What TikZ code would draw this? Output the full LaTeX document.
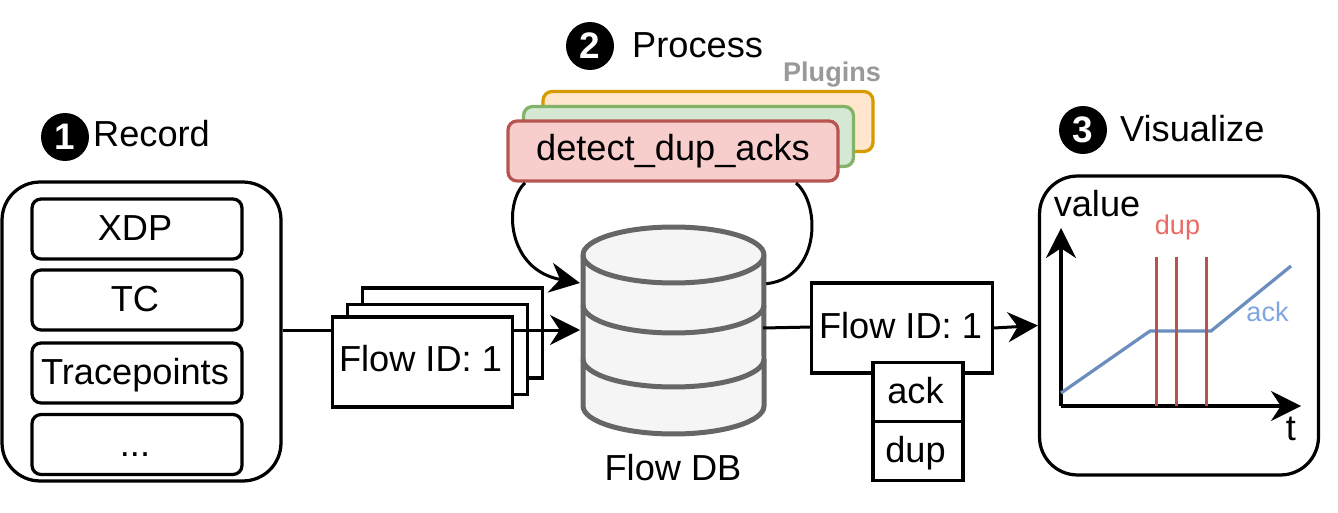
\documentclass[tikz,border=0pt]{standalone}
\usepackage{fontspec}
\setmainfont{Liberation Sans}
\usetikzlibrary{arrows.meta}
\definecolor{dbline}{HTML}{666666}
\definecolor{dbfill}{HTML}{F5F5F5}
\definecolor{ackline}{HTML}{6C8EBF}
\definecolor{dupline}{HTML}{B85450}
\definecolor{dupfill}{HTML}{F8CECC}
\definecolor{acktext}{HTML}{7EA6E0}
\definecolor{duptext}{HTML}{EA6B66}
\definecolor{orangeline}{HTML}{D79B00}
\definecolor{orangefill}{HTML}{FFE6CC}
\definecolor{greenline}{HTML}{82B366}
\definecolor{greenfill}{HTML}{D5E8D4}
\definecolor{pluginstext}{HTML}{999999}
\tikzset{
	bigtext/.style={font=\fontsize{20.6}{24}\selectfont},
	smalltext/.style={font=\fontsize{15.4}{18}\selectfont},
	panel/.style={draw,line width=.065cm,rounded corners=.76cm,inner sep=0pt,minimum width=5.58cm,minimum height=5.98cm},
	probe/.style={draw,bigtext,line width=.065cm,rounded corners=.18cm,fill=white,minimum width=4.2cm,minimum height=1.2cm,inner sep=0pt,text height=.56cm,text depth=.08cm},
	flowbox/.style={draw,bigtext,line width=.065cm,fill=white,minimum width=3.61cm,minimum height=1.8cm,inner sep=0pt,text height=.5cm,text depth=.1cm},
	fieldbox/.style={draw,bigtext,line width=.065cm,fill=white,minimum width=1.8cm,minimum height=1.18cm,inner sep=0pt,text height=.52cm,text depth=.07cm},
	plugin/.style={draw,line width=.065cm,rounded corners=.18cm,minimum width=6.6cm,minimum height=1.2cm,inner sep=0pt},
	badge/.style={circle,fill=black,text=white,minimum size=.96cm,inner sep=0pt,font=\fontsize{21}{24}\selectfont\bfseries},
	link/.style={line width=.06cm,-{Stealth[length=.6cm,width=.6cm]}},
	axis/.style={line width=.065cm,-{Stealth[length=.6cm,width=.6cm]}},
}
\begin{document}
\begin{tikzpicture}[x=.02cm,y=-.02cm]
	\useasboundingbox (0,0) rectangle (1338,513);
	% record
	\node[panel] (record) at (141.5,331.5) {};
	\node[probe] (xdp) at (137,229) {XDP\kern.08cm};
	\node[probe] (tc) at (137,300) {TC\kern.08cm};
	\node[probe] (tracepoints) at (137,373) {Tracepoints\kern.08cm};
	\node[probe] (more) at (137,444.5) {...\kern.08cm};
	\node[badge] (one) at (65,137) {1};
	\node[bigtext,anchor=west] (recordtitle) at (87,134) {Record};
	% flows
	\path
	(580,330) coordinate (dbin)
	(580,283) coordinate (dbloop)
	(762,284) coordinate (dbout)
	(763,328) coordinate (dbright)
	;
	\node[flowbox] (flowc) at (452.5,333) {};
	\node[flowbox] (flowb) at (437.5,349.5) {};
	\draw[link] (record.east|-dbin) -- (dbin);
	\node[flowbox] (flowa) at (422.5,362) {Flow ID: 1\kern.08cm};
	% process
	\node[badge] (two) at (590,46) {2};
	\node[bigtext,anchor=west] (processtitle) at (626,45) {Process};
	\node[smalltext,text=pluginstext,font=\fontsize{15.4}{18}\selectfont\bfseries] (plugins) at (832,75) {Plugins};
	\node[plugin,draw=orangeline,fill=orangefill] (plugina) at (708,121.5) {};
	\node[plugin,draw=greenline,fill=greenfill] (pluginb) at (688.5,136.5) {};
	\node[plugin,draw=dupline,fill=dupfill,bigtext] (pluginc) at (673,151) {detect\_dup\_acks};
	\draw[link] (525,183) .. controls (503,203) and (507,270) .. (dbloop);
	\draw[line width=.06cm] (796,183) .. controls (822,205) and (820,282) .. (dbout);
	% database
	\path[draw=dbline,fill=dbfill,line width=.1cm]
	(583,255) arc[x radius=1.81cm,y radius=.56cm,start angle=180,end angle=0]
	-- (764,406) arc[x radius=1.81cm,y radius=.56cm,start angle=0,end angle=-180] -- cycle;
	\foreach \t in {255,305,359}{
		\draw[draw=dbline,line width=.1cm] (583,\t) arc[x radius=1.81cm,y radius=.56cm,start angle=180,end angle=360];
	}
	\node[bigtext] (dbname) at (673,468) {Flow DB};
	% output
	\draw[line width=.06cm] (dbright) -- (812,327);
	\node[flowbox,text depth=.06cm] (flowout) at (902,328) {Flow ID: 1\kern.06cm};
	\node[fieldbox] (ack) at (918,392) {ack\kern.1cm};
	\node[fieldbox] (dup) at (918,451) {dup\kern.1cm};
	% visualize
	\node[panel] (plot) at (1179,325.5) {};
	\draw[link] (flowout.east) -- (plot.west);
	\node[badge] (three) at (1083,130) {3};
	\node[bigtext,anchor=west] (vistitle) at (1114,129) {Visualize};
	\node[bigtext] (yname) at (1097,204) {value};
	\node[bigtext] (xname) at (1291,429) {t};
	\coordinate (origin) at (1061,406);
	\draw[axis] (origin) -- (1061,228);
	\draw[axis] (origin) -- (1301,406);
	\draw[line width=.065cm,ackline] (1061,393) -- (1150,331) -- (1211,331) -- (1291,266);
	\foreach \t in {1156.5,1176.5,1206.5}{
		\draw[line width=.065cm,dupline] (\t,257) -- (\t,406);
	}
	\node[smalltext,text=duptext] (duplabel) at (1177.5,228) {dup};
	\node[smalltext,text=acktext] (acklabel) at (1267.5,312) {ack};
\end{tikzpicture}
\end{document}
